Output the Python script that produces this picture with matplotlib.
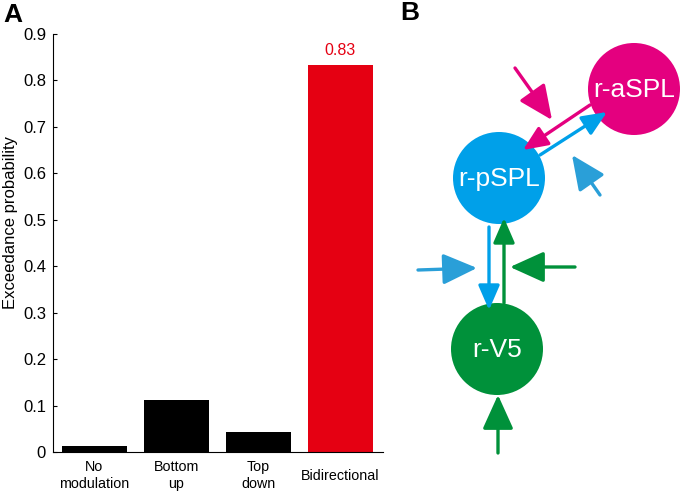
import numpy as np
import matplotlib.pyplot as plt
from matplotlib.patches import Circle, FancyArrowPatch
from matplotlib.transforms import ScaledTranslation

plt.rcParams['font.family'] = ['Liberation Sans', 'DejaVu Sans']

# panel A data
models = ['No\nmodulation', 'Bottom\nup', 'Top\ndown', 'Bidirectional']
exceedance = [0.013, 0.113, 0.044, 0.834]
bar_colors = ['black', 'black', 'black', '#E50012']

# panel B diagram (pixel layout)
nodes = ['r-aSPL', 'r-pSPL', 'r-V5']
node_xy = [(634, 89), (499, 178), (497, 349)]
node_colors = ['#E4007F', '#00A0E9', '#00913A']
node_r = 46

# arrows: start, end, colour, head size
arrows = [
    ((590, 105), (523, 150), '#E4007F', 'in'),
    ((540, 155), (607, 112), '#00A0E9', 'in'),
    ((489, 227), (489, 310), '#00A0E9', 'in'),
    ((504, 303), (504, 218), '#00913A', 'in'),
    ((515, 68), (552, 120), '#E4007F', 'ext'),
    ((600, 195), (572, 155), '#2A9FD8', 'ext'),
    ((418, 270), (477, 268), '#2A9FD8', 'ext'),
    ((575, 267), (510, 267), '#00913A', 'ext'),
    ((498, 453), (498, 395), '#00913A', 'ext'),
]

fig = plt.figure(figsize=(6.83, 4.91), dpi=100)
ax = fig.add_axes([53 / 683, 39 / 491, 330 / 683, 418 / 491])
x = np.arange(1, len(models) + 1)
ax.bar(x, exceedance, width=0.79, color=bar_colors)
ax.text(x[3], exceedance[3] + 0.014, '0.83', color='#E50012',
        ha='center', va='bottom', fontsize=11.5)
ax.set_xlim(0.494, 4.52)
ax.set_ylim(0, 0.9)
ax.set_yticks(np.arange(0, 0.91, 0.1))
ax.set_yticklabels(['0'] + ['%.1f' % v for v in np.arange(0.1, 0.91, 0.1)])
ax.set_xticks(x)
ax.set_xticklabels(models, fontsize=10.3, linespacing=1.2)
ax.tick_params(axis='y', direction='in', length=3, labelsize=12, pad=5)
ax.tick_params(axis='x', length=0, pad=6)
ax.spines['top'].set_visible(False)
ax.spines['right'].set_visible(False)
ax.set_ylabel('Exceedance probability', fontsize=12)
ax.yaxis.set_label_coords(-0.105, 0.548)

# single-line label sits midway between the two-line ones
lbl = ax.get_xticklabels()[3]
lbl.set_transform(lbl.get_transform() + ScaledTranslation(0, -0.09, fig.dpi_scale_trans))

# panel B in pixel coordinates
bx = fig.add_axes([0, 0, 1, 1])
bx.set_xlim(0, 683)
bx.set_ylim(491, 0)
bx.axis('off')
bx.patch.set_alpha(0)

for name, (cx, cy), c in zip(nodes, node_xy, node_colors):
    bx.add_patch(Circle((cx, cy), node_r, color=c, lw=0))
    bx.text(cx, cy + 1, name, color='white', ha='center', va='center', fontsize=19)

for p0, p1, c, kind in arrows:
    if kind == 'in':
        style = '-|>,head_length=15,head_width=6.5'
    else:
        style = '-|>,head_length=21,head_width=9.5'
    bx.add_patch(FancyArrowPatch(p0, p1, arrowstyle=style, color=c, lw=2.4,
                                 shrinkA=0, shrinkB=0, mutation_scale=1))

fig.text(3 / 683, 1 - 3 / 491, 'A', fontsize=19, fontweight='bold', va='top')
fig.text(400 / 683, 1 - 1 / 491, 'B', fontsize=19, fontweight='bold', va='top')

fig.savefig('out.png', dpi=100)
